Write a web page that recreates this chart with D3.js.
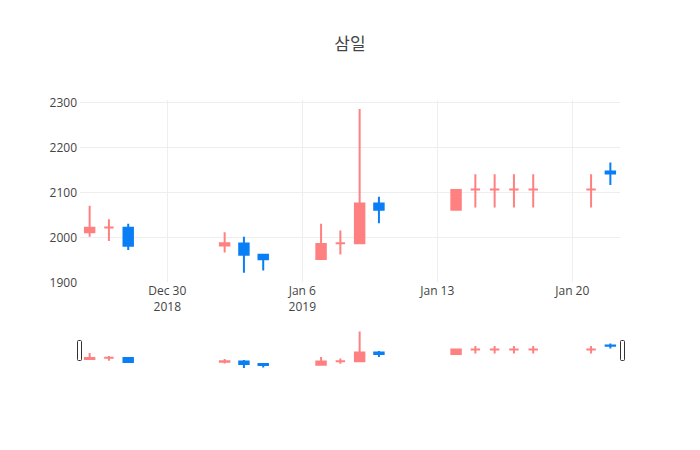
<!DOCTYPE html>
<html>
<head>
<meta charset="utf-8">
<script src="https://cdn.jsdelivr.net/npm/d3@7"></script>
<style>
  html, body { margin: 0; padding: 0; background: #fff; }
  svg { display: block; font-family: "Open Sans", "Noto Sans CJK KR", sans-serif; }
</style>
</head>
<body>
<svg id="chart" width="700" height="450"></svg>
<script>
// ---- data ----
const dates = ["2018-12-26","2018-12-27","2018-12-28","2019-01-02","2019-01-03","2019-01-04",
               "2019-01-07","2019-01-08","2019-01-09","2019-01-10","2019-01-14","2019-01-15",
               "2019-01-16","2019-01-17","2019-01-18","2019-01-21","2019-01-22"];
const openVals  = [2011, 2022, 2021, 1982, 1986, 1961, 1952, 1987, 1987, 2075, 2061, 2106, 2106, 2106, 2106, 2106, 2146];
const highVals  = [2070, 2040, 2030, 2011, 2001, 1961, 2030, 2015, 2285, 2090, 2105, 2140, 2140, 2140, 2140, 2140, 2166];
const lowVals   = [2001, 1992, 1972, 1966, 1921, 1926, 1952, 1962, 1987, 2031, 2061, 2066, 2066, 2066, 2066, 2066, 2116];
const closeVals = [2021, 2022, 1981, 1987, 1961, 1951, 1985, 1987, 2075, 2061, 2105, 2106, 2106, 2106, 2106, 2106, 2142];

const yTicks = [1900, 2000, 2100, 2200, 2300];
const xTickDates = ["2018-12-30", "2019-01-06", "2019-01-13", "2019-01-20"];
const xTickLabels = [["Dec 30", "2018"], ["Jan 6", "2019"], ["Jan 13"], ["Jan 20"]];
const titleText = "삼일";

const incColor = "#ff8080";
const decColor = "#0a7ff5";

// ---- layout ----
const svg = d3.select("#chart");
const W = 700, H = 450;
const L = 80, R = 620, T = 100, B = 282;
const sliderTop = 329.5, sliderBottom = 370;
const parse = d3.timeParse("%Y-%m-%d");
const DAY = 86400000;

const data = dates.map((d, i) => ({
  date: parse(d), o: openVals[i], h: highVals[i], l: lowVals[i], c: closeVals[i]
}));
// Plotly-style direction (equal open/close compares with previous close)
let inc = true, cPrev = null;
data.forEach(d => {
  if (d.c === d.o) {
    if (cPrev !== null && d.c !== cPrev) inc = d.c > cPrev;
  } else inc = d.c > d.o;
  cPrev = d.c;
  d.inc = inc;
});

const xMin = new Date(data[0].date.getTime() - DAY / 2);
const xMax = new Date(data[data.length - 1].date.getTime() + DAY / 2);
const x = d3.scaleTime().domain([xMin, xMax]).range([L, R]);
const yDomain = [1900.7, 2305.1];
const y = d3.scaleLinear().domain(yDomain).range([B, T]);
const ys = d3.scaleLinear().domain(yDomain).range([sliderBottom, sliderTop]);

// title
svg.append("text")
  .attr("x", W / 2).attr("y", 50)
  .attr("text-anchor", "middle")
  .attr("font-size", 17).attr("fill", "#444")
  .text(titleText);

// gridlines
const grid = svg.append("g");
yTicks.filter(v => y(v) >= T - 0.5 && y(v) <= B - 1).forEach(v => {
  grid.append("line").attr("x1", L).attr("x2", R)
    .attr("y1", Math.round(y(v)) + 0.5).attr("y2", Math.round(y(v)) + 0.5)
    .attr("stroke", "#eee").attr("stroke-width", 1);
});
xTickDates.forEach(s => {
  const px = Math.round(x(parse(s))) + 0.5;
  grid.append("line").attr("x1", px).attr("x2", px)
    .attr("y1", T).attr("y2", B)
    .attr("stroke", "#eee").attr("stroke-width", 1);
});

// y axis
const yAxis = svg.append("g").attr("transform", `translate(${L - 3},0)`)
  .call(d3.axisLeft(y).tickValues(yTicks).tickSize(0).tickPadding(0).tickFormat(d3.format("d")));
yAxis.select(".domain").remove();
yAxis.selectAll("text").attr("font-size", 12).attr("fill", "#444")
  .attr("font-family", "'Open Sans', sans-serif");

// x axis
const xAxis = svg.append("g").attr("transform", `translate(0,${B})`)
  .call(d3.axisBottom(x).tickValues(xTickDates.map(parse)).tickSize(0).tickFormat(() => ""));
xAxis.select(".domain").remove();
xAxis.selectAll(".tick text").each(function(d, i) {
  const t = d3.select(this);
  t.text(null).attr("y", 0).attr("dy", null)
    .attr("font-size", 12).attr("fill", "#444")
    .attr("font-family", "'Open Sans', sans-serif");
  xTickLabels[i].forEach((line, j) => {
    t.append("tspan").attr("x", 0).attr("y", 13 + j * 15.6).text(line);
  });
});

// candlestick drawer
const bdPos = 0.245 * DAY;
function candlePath(d, yScale) {
  const xc = x(d.date);
  const x0 = x(new Date(d.date.getTime() - bdPos));
  const x1 = x(new Date(d.date.getTime() + bdPos));
  const yo = yScale(d.o), yc = yScale(d.c);
  const yh = yScale(d.h), yl = yScale(d.l);
  const top = Math.min(yo, yc), bot = Math.max(yo, yc);
  return `M${x0},${yo}V${yc}H${x1}V${yo}Z` +
         `M${xc},${yl}V${bot}M${xc},${yh}V${top}`;
}
function drawCandles(g, yScale) {
  g.selectAll("path.candle").data(data).enter().append("path")
    .attr("class", "candle")
    .attr("d", d => candlePath(d, yScale))
    .attr("fill", d => d.inc ? incColor : decColor)
    .attr("stroke", d => d.inc ? incColor : decColor)
    .attr("stroke-width", 2);
}

svg.append("clipPath").attr("id", "clipMain")
  .append("rect").attr("x", L).attr("y", T).attr("width", R - L).attr("height", B - T);
drawCandles(svg.append("g").attr("clip-path", "url(#clipMain)"), y);

// range slider
svg.append("rect").attr("x", L).attr("y", sliderTop)
  .attr("width", R - L).attr("height", sliderBottom - sliderTop).attr("fill", "#fff");
svg.append("clipPath").attr("id", "clipSlider")
  .append("rect").attr("x", L).attr("y", sliderTop).attr("width", R - L).attr("height", sliderBottom - sliderTop);
drawCandles(svg.append("g").attr("clip-path", "url(#clipSlider)"), ys);

const sh = sliderBottom - sliderTop;
const handleY = Math.round(sliderTop + sh / 4) + 0.5;
const handleH = Math.round(sh / 2);
[L - 2.5, R + 0.5].forEach(hx => {
  svg.append("rect").attr("x", hx).attr("y", handleY)
    .attr("width", 4).attr("height", handleH)
    .attr("rx", 1).attr("ry", 1)
    .attr("fill", "#fff").attr("stroke", "#333").attr("stroke-width", 1);
});
</script>
</body>
</html>
